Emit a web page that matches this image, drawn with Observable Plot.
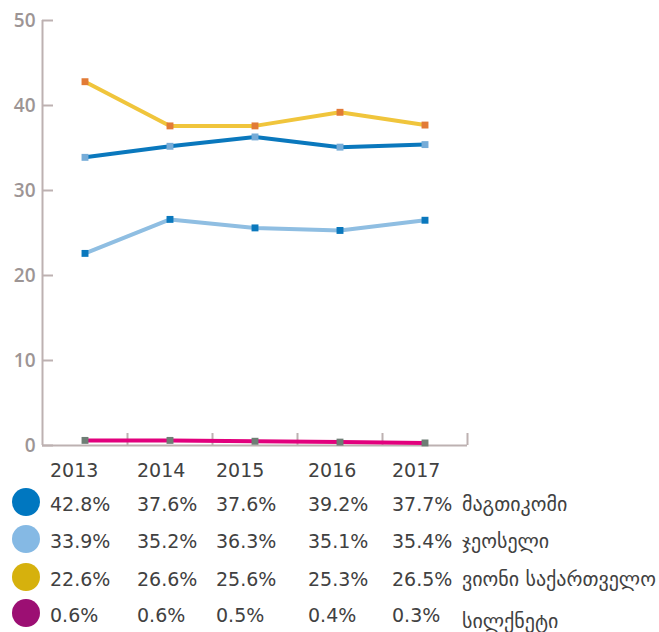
<!DOCTYPE html>
<html>
<head>
<meta charset="utf-8">
<script src="https://cdn.jsdelivr.net/npm/d3@7"></script>
<script src="https://cdn.jsdelivr.net/npm/@observablehq/plot@0.6"></script>
<style>
  body { margin: 0; background: #fff; }
  #wrap { width: 659px; }
  #table { position: relative; width: 659px; height: 177px; font-family: "DejaVu Sans", sans-serif; font-size: 19px; color: #414141; overflow: hidden; }
  #table .t { position: absolute; line-height: 1; transform: translateY(-50%); white-space: nowrap; }
  #table .n { font-size: 20px; }
  #table .c { position: absolute; width: 28px; height: 28px; border-radius: 50%; transform: translate(-50%, -50%); }
</style>
</head>
<body>
<div id="wrap">
  <div id="chart"></div>
  <div id="table"></div>
</div>
<script>
// ---- data ----
const years = [2013, 2014, 2015, 2016, 2017];
const seriesNames = ["მაგთიკომი", "ჯეოსელი", "ვიონი საქართველო", "სილქნეტი"];
const magticom = [42.8, 37.6, 37.6, 39.2, 37.7];
const geocell = [33.9, 35.2, 36.3, 35.1, 35.4];
const beeline = [22.6, 26.6, 25.6, 25.3, 26.5];
const silknet = [0.6, 0.6, 0.5, 0.4, 0.3];
const yTicks = [0, 10, 20, 30, 40, 50];
const bandEdges = [2013.5, 2014.5, 2015.5, 2016.5, 2017.5];

const seriesValues = [magticom, geocell, beeline, silknet];
const lineColors = ["#f0c53c", "#0a78bd", "#8fbee2", "#e2007d"];
const markerColors = ["#e27b36", "#76acd8", "#0a78bd", "#6e7e75"];
const legendColors = ["#0077c0", "#85b9e4", "#d6b10d", "#9c0f73"];
const axisColor = "#bdb1b1";

const rows = [];
seriesValues.forEach((vals, i) => vals.forEach((v, j) => rows.push({series: i, year: years[j], value: v})));

const marks = [
  Plot.ruleX([2012.5], {y1: 50, y2: 0, stroke: axisColor, strokeWidth: 2}),
  Plot.ruleY(yTicks, {x1: 2012.5, x2: 2013.5, insetRight: 74, stroke: axisColor, strokeWidth: 2}),
  Plot.ruleX(bandEdges, {y1: 10, y2: 0, insetTop: 73, stroke: axisColor, strokeWidth: 2}),
  Plot.ruleY([0], {stroke: axisColor, strokeWidth: 2}),
  Plot.axisY({ticks: yTicks, tickSize: 0, tickPadding: 7, label: null, fill: "#9d9595", fontSize: 19, fontWeight: 600, fontFamily: "Open Sans"})
];
seriesValues.forEach((vals, i) => {
  marks.push(Plot.line(rows.filter(d => d.series === i), {x: "year", y: "value", stroke: lineColors[i], strokeWidth: 4}));
});
seriesValues.forEach((vals, i) => {
  marks.push(Plot.dot(rows.filter(d => d.series === i), {x: "year", y: "value", symbol: "square", r: 3.9, fill: markerColors[i]}));
});

const chart = Plot.plot({
  width: 659,
  height: 455,
  marginLeft: 42,
  marginRight: 192,
  marginTop: 20,
  marginBottom: 10,
  x: {domain: [2012.5, 2017.5], axis: null},
  y: {domain: [0, 50], axis: null},
  style: {background: "#fff", overflow: "visible"},
  marks
});
document.getElementById("chart").appendChild(chart);

// ---- table below the chart ----
const table = document.getElementById("table");
const colX = [50, 137, 216, 308, 392];
const yearRowY = 15;
const rowY = [49, 86, 124, 160];
const nameX = 462;
function addText(txt, x, y, cls) {
  const el = document.createElement("div");
  el.className = "t" + (cls ? " " + cls : "");
  el.textContent = txt;
  el.style.left = x + "px";
  el.style.top = y + "px";
  table.appendChild(el);
}
years.forEach((yr, j) => addText(String(yr), colX[j], yearRowY));
seriesValues.forEach((vals, i) => {
  const c = document.createElement("div");
  c.className = "c";
  c.style.left = "25.5px";
  c.style.top = (rowY[i] - 2) + "px";
  c.style.background = legendColors[i];
  table.appendChild(c);
  vals.forEach((v, j) => addText(v.toFixed(1) + "%", colX[j], rowY[i]));
  addText(seriesNames[i], nameX, rowY[i] + (i === 3 ? 6 : 0), "n");
});
</script>
</body>
</html>
